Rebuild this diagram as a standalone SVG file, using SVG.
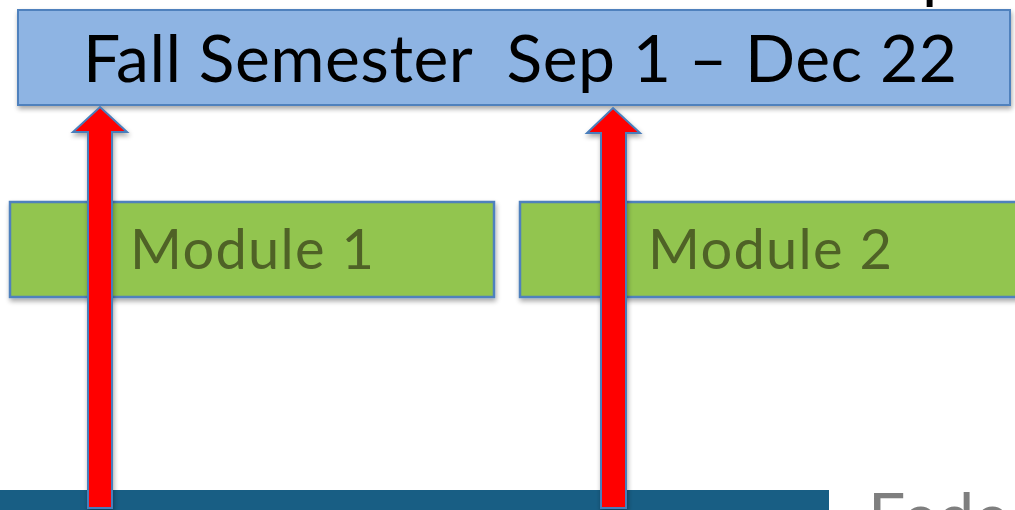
<svg xmlns="http://www.w3.org/2000/svg" width="1015" height="510" viewBox="0 0 1015 510">
  <defs>
    <filter id="sh" x="-5%" y="-10%" width="110%" height="130%">
      <feGaussianBlur in="SourceAlpha" stdDeviation="2.5"/>
      <feOffset dx="1" dy="3" result="b"/>
      <feComponentTransfer><feFuncA type="linear" slope="0.35"/></feComponentTransfer>
      <feMerge><feMergeNode/><feMergeNode in="SourceGraphic"/></feMerge>
    </filter>
  </defs>
  <style>
    .bar { fill: #8EB4E3; stroke: #4F81BD; stroke-width: 2; }
    .mod { fill: #92C550; stroke: #4F81BD; stroke-width: 2.5; }
    .modt { font-family: Lato, "Open Sans", sans-serif; font-size: 56px; fill: #4F6228; }
    .title { font-family: Lato, "Open Sans", sans-serif; font-size: 66px; fill: #000000; white-space: pre; }
    .arrow { fill: #FF0000; stroke: #4A7EBB; stroke-width: 2; stroke-linejoin: miter; }
  </style>
  <rect x="0" y="0" width="1015" height="510" fill="#FFFFFF"/>
  <text x="922" y="-4" class="title">p</text>
  <g id="fall-semester" filter="url(#sh)">
    <rect class="bar" x="18" y="10" width="992" height="95"/>
    <text class="title" x="83" y="82" textLength="874" xml:space="preserve">Fall Semester  Sep 1 – Dec 22</text>
  </g>
  <g id="module-1" filter="url(#sh)">
    <rect class="mod" x="10" y="202" width="484" height="95"/>
    <text class="modt" x="130" y="269" textLength="244">Module 1</text>
  </g>
  <g id="module-2" filter="url(#sh)">
    <rect class="mod" x="520" y="202" width="510" height="95"/>
    <text class="modt" x="648" y="269" textLength="244">Module 2</text>
  </g>
  <g id="bottom-bar">
    <rect x="0" y="490" width="829" height="25" fill="#185E84"/>
    <text x="868" y="540" font-family="Lato, 'Open Sans', sans-serif" font-size="66" fill="#7F7F7F">Fede</text>
  </g>
  <g id="connectors" filter="url(#sh)">
    <polygon class="arrow" points="100,107 127,132 112,132 112,508 88,508 88,132 73,132"/>
    <polygon class="arrow" points="613,108 640,133 626,133 626,508 601,508 601,133 587,133"/>
  </g>
</svg>
